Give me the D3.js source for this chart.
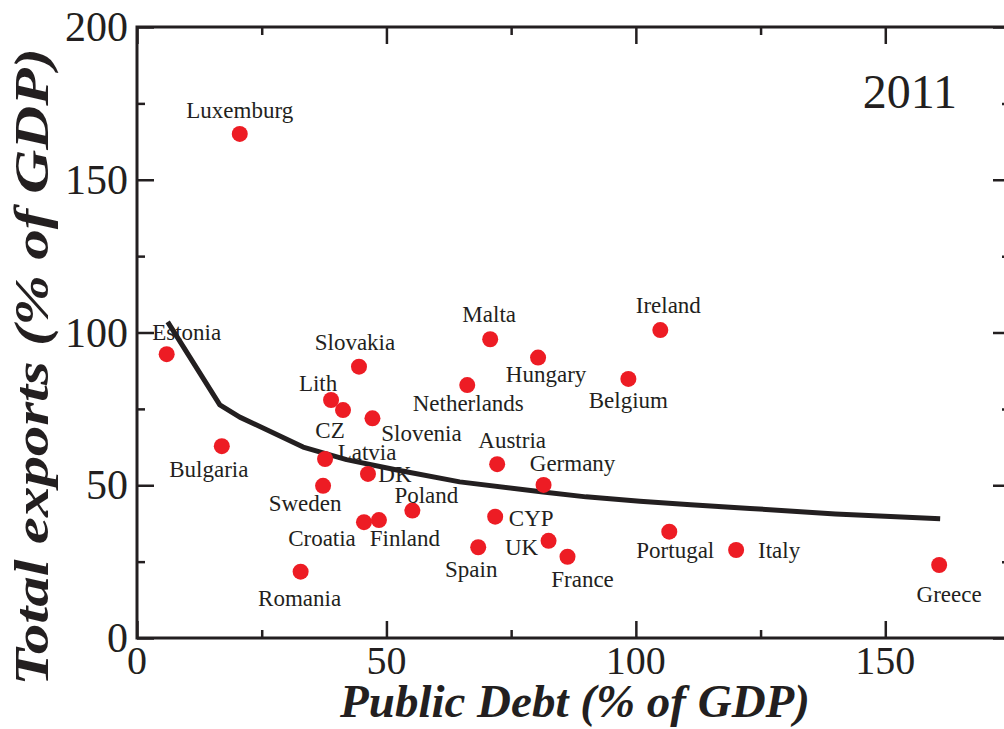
<!DOCTYPE html>
<html lang="en">
<head>
<meta charset="utf-8">
<title>Exports vs public debt 2011</title>
<script src="https://d3js.org/d3.v7.min.js"></script>
<style>
  body { margin: 0; background: #fff; }
  svg text { font-family: "Liberation Serif", "Times New Roman", serif; fill: #231f20; }
</style>
</head>
<body>
<svg id="chart" width="1004" height="729"></svg>
<script>
// country data, 2011
var countries = ["Luxemburg", "Estonia", "Bulgaria", "Slovakia", "Lith", "CZ", "Slovenia", "Latvia",
  "DK", "Sweden", "Poland", "Croatia", "Finland", "Romania", "Spain", "Malta", "Ireland", "Hungary",
  "Netherlands", "Belgium", "Austria", "Germany", "CYP", "UK", "France", "Portugal", "Italy", "Greece"];
var debt = [20.6, 5.95, 17.0, 44.5, 38.9, 41.3, 47.2, 37.7,
  46.3, 37.3, 55.2, 45.5, 48.5, 32.8, 68.4, 70.8, 104.9, 80.4,
  66.2, 98.5, 72.2, 81.5, 71.8, 82.5, 86.3, 106.7, 120.1, 160.8];
var exportsPct = [165.0, 92.9, 62.8, 88.8, 77.9, 74.6, 71.9, 58.6,
  53.7, 49.8, 41.7, 37.9, 38.6, 21.7, 29.7, 97.8, 100.8, 91.8,
  82.8, 84.8, 56.9, 50.1, 39.7, 31.8, 26.6, 34.8, 28.8, 23.9];

// fitted curve
var fitDebt = [6.15, 16.6, 20.6, 26.0, 33.3, 42.0, 52.1, 64.7, 81.4, 90.0, 100.8, 111.0, 122.9, 140.0, 161.0];
var fitExports = [103.5, 76.3, 72.3, 68.2, 62.5, 58.4, 55.0, 51.1, 47.8, 46.2, 44.8, 43.6, 42.4, 40.6, 39.0];

var xTicks = [0, 50, 100, 150];
var yTicks = [0, 50, 100, 150, 200];
var xMinor = [25, 75, 125, 175];
var yMinor = [25, 75, 125, 175];

// label placement relative to each dot (px): [dx, dy]
var labelShift = {
  "Luxemburg": [0, -16], "Estonia": [20, -14], "Bulgaria": [-13, 31], "Slovakia": [-4, -17],
  "Lith": [-13, -9], "CZ": [-13, 28], "Slovenia": [49, 23], "Latvia": [42, 1],
  "DK": [27, 8], "Sweden": [-18, 25], "Poland": [14, -8], "Croatia": [-42, 24],
  "Finland": [26, 26], "Romania": [-1, 34], "Spain": [-7, 30], "Malta": [-1, -17],
  "Ireland": [8, -17], "Hungary": [8, 24], "Netherlands": [1, 26], "Belgium": [0, 29],
  "Austria": [15, -16], "Germany": [29, -14], "CYP": [36, 9], "UK": [-27, 14],
  "France": [15, 30], "Portugal": [6, 26], "Italy": [43, 8], "Greece": [10, 37]
};

var margin = { top: 27, right: -6, bottom: 91, left: 137 },
  width = 1004 - margin.left - margin.right,
  height = 729 - margin.top - margin.bottom;

var svg = d3.select("#chart")
  .append("g")
  .attr("transform", "translate(" + margin.left + "," + margin.top + ")");

var x = d3.scaleLinear().domain([0, 175]).range([0, width]);
var y = d3.scaleLinear().domain([0, 200]).range([height, 0]);

var ink = "#231f20";

// inward ticks on all four sides
function tickAxis(axisFn, scale, values, len, transform) {
  var g = svg.append("g")
    .attr("transform", transform)
    .call(axisFn(scale).tickValues(values).tickSizeInner(len).tickSizeOuter(0).tickFormat(""));
  g.select(".domain").remove();
  g.selectAll("line").attr("stroke", ink).attr("stroke-width", 2.5);
}
tickAxis(d3.axisTop, x, xTicks, 17, "translate(0," + height + ")");
tickAxis(d3.axisTop, x, xMinor, 8, "translate(0," + height + ")");
tickAxis(d3.axisBottom, x, xTicks, 17, "translate(0,0)");
tickAxis(d3.axisBottom, x, xMinor, 8, "translate(0,0)");
tickAxis(d3.axisRight, y, yTicks, 17, "translate(0,0)");
tickAxis(d3.axisRight, y, yMinor, 8, "translate(0,0)");
tickAxis(d3.axisLeft, y, yTicks, 17, "translate(" + width + ",0)");
tickAxis(d3.axisLeft, y, yMinor, 8, "translate(" + width + ",0)");

// frame
svg.append("rect")
  .attr("x", 0).attr("y", 0)
  .attr("width", width).attr("height", height)
  .attr("fill", "none")
  .attr("stroke", ink)
  .attr("stroke-width", 3);

// tick labels
svg.selectAll(".xlab")
  .data(xTicks)
  .enter().append("text")
  .attr("x", function (d) { return x(d); })
  .attr("y", height + 36)
  .attr("text-anchor", "middle")
  .attr("font-size", "40px")
  .text(function (d) { return d; });

svg.selectAll(".ylab")
  .data(yTicks)
  .enter().append("text")
  .attr("x", -9)
  .attr("y", function (d) { return y(d) + 14; })
  .attr("text-anchor", "end")
  .attr("font-size", "42px")
  .text(function (d) { return d; });

// axis titles
svg.append("text")
  .attr("x", 575 - margin.left)
  .attr("y", height + 79)
  .attr("text-anchor", "middle")
  .attr("font-size", "47px")
  .attr("font-weight", "bold")
  .attr("font-style", "italic")
  .text("Public Debt (% of GDP)");

svg.append("text")
  .attr("transform", "translate(" + (48 - margin.left) + "," + (367 - margin.top) + ") rotate(-90) scale(1.27,1)")
  .attr("text-anchor", "middle")
  .attr("font-size", "48px")
  .attr("font-weight", "bold")
  .attr("font-style", "italic")
  .text("Total exports (% of GDP)");

// year
svg.append("text")
  .attr("x", 957 - margin.left)
  .attr("y", 108 - margin.top)
  .attr("text-anchor", "end")
  .attr("font-size", "48px")
  .text("2011");

// fitted line
var fitLine = d3.line()
  .x(function (d, i) { return x(fitDebt[i]); })
  .y(function (d, i) { return y(fitExports[i]); });

svg.append("path")
  .datum(fitDebt)
  .attr("d", fitLine)
  .attr("fill", "none")
  .attr("stroke", ink)
  .attr("stroke-width", 5)
  .attr("stroke-linejoin", "round");

// dots
svg.selectAll(".dot")
  .data(countries)
  .enter().append("circle")
  .attr("cx", function (d, i) { return x(debt[i]); })
  .attr("cy", function (d, i) { return y(exportsPct[i]); })
  .attr("r", 8)
  .attr("fill", "#ed1c24");

// country labels
svg.selectAll(".clab")
  .data(countries)
  .enter().append("text")
  .attr("x", function (d, i) { return x(debt[i]) + labelShift[d][0]; })
  .attr("y", function (d, i) { return y(exportsPct[i]) + labelShift[d][1]; })
  .attr("text-anchor", "middle")
  .attr("font-size", "23px")
  .text(function (d) { return d; });
</script>
</body>
</html>
